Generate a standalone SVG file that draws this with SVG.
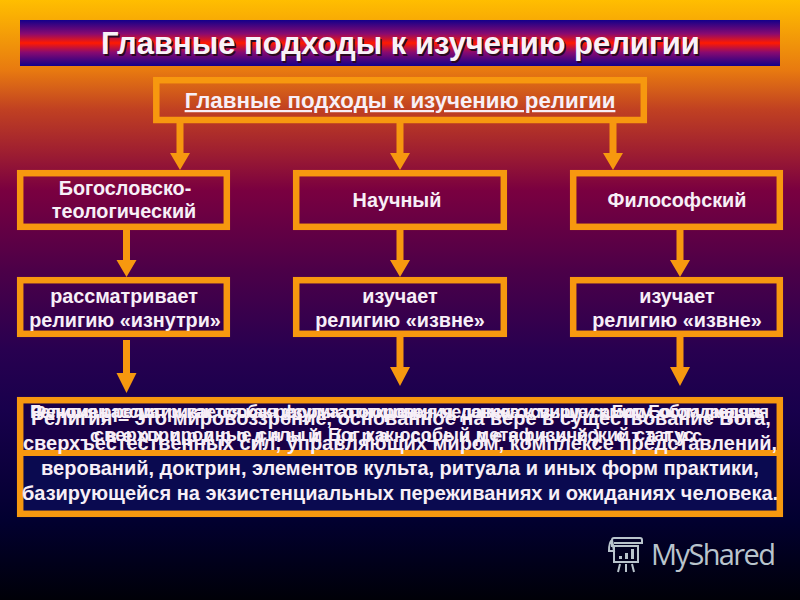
<svg xmlns="http://www.w3.org/2000/svg" width="800" height="600" viewBox="0 0 800 600">
<style>
text{font-family:"Liberation Sans",Arial,sans-serif;font-weight:700;fill:#f7eff7;text-anchor:middle}
.box{fill:none;stroke:#f7980f;stroke-width:6.5}
.arr{fill:#f7980f}
.lb{font-size:19.800px}
.bt{font-size:20px}
.ov{font-size:18px}
.title{font-size:31px;fill:#f8f2f8}
.shadow{font-size:31px;fill:#2a0820}
.logo{font-family:"Open Sans","Noto Sans",sans-serif;font-weight:400;font-size:29px;fill:#b9c4cc;text-anchor:start}
.ico{fill:none;stroke:#b9c4cc;stroke-width:2}
</style>
<defs>
<linearGradient id="bg" x1="0" y1="0" x2="0" y2="1">
<stop offset="0" stop-color="#ffbe00"/>
<stop offset="0.117" stop-color="#e87a10"/>
<stop offset="0.183" stop-color="#c04022"/>
<stop offset="0.25" stop-color="#a02030"/>
<stop offset="0.317" stop-color="#7a0040"/>
<stop offset="0.45" stop-color="#4c0048"/>
<stop offset="0.583" stop-color="#280050"/>
<stop offset="0.683" stop-color="#18004c"/>
<stop offset="0.867" stop-color="#020030"/>
<stop offset="1" stop-color="#000008"/>
</linearGradient>
<linearGradient id="band" x1="0" y1="0" x2="0" y2="1">
<stop offset="0" stop-color="#14008a"/>
<stop offset="0.3" stop-color="#8a0a70"/>
<stop offset="0.5" stop-color="#ff1a00"/>
<stop offset="0.7" stop-color="#8a0a70"/>
<stop offset="1" stop-color="#14008a"/>
</linearGradient>
</defs>
<rect width="800" height="600" fill="url(#bg)"/>
<g id="title-band">
<rect x="20" y="20" width="760" height="46" fill="url(#band)"/>
<text class="shadow" x="402" y="56">Главные подходы к изучению религии</text>
<text class="title" x="400.500" y="54">Главные подходы к изучению религии</text>
</g>
<g id="connectors">
<path class="arr" d="M176.500 123h7v30h6.500l-10 17-10-17h6.500z"/>
<path class="arr" d="M396.500 123h7v30h6.500l-10 17-10-17h6.500z"/>
<path class="arr" d="M609.500 123h7v30h6.500l-10 17-10-17h6.500z"/>
<path class="arr" d="M123 230h7v30h6.500l-10 17-10-17h6.500z"/>
<path class="arr" d="M396.500 230h7v30h6.500l-10 17-10-17h6.500z"/>
<path class="arr" d="M676.500 230h7v30h6.500l-10 17-10-17h6.500z"/>
<path class="arr" d="M123 340h7v33h6.500l-10 20-10-20h6.500z"/>
<path class="arr" d="M396.500 337h7v30h6.500l-10 19-10-19h6.500z"/>
<path class="arr" d="M676.500 337h7v30h6.500l-10 19-10-19h6.500z"/>
</g>
<g id="root">
<rect class="box" x="156.300" y="80.200" width="487.500" height="39.800"/>
<text x="400" y="108" font-size="22.300" text-decoration="underline">Главные подходы к изучению религии</text>
</g>
<g id="theology">
<rect class="box" x="20.200" y="173.200" width="206.600" height="53.600"/>
<text class="lb" x="125" y="195">Богословско-</text>
<text class="lb" x="124" y="218">теологический</text>
</g>
<g id="science">
<rect class="box" x="296.200" y="173.200" width="207.600" height="53.600"/>
<text class="lb" x="397" y="207">Научный</text>
</g>
<g id="philosophy">
<rect class="box" x="573.200" y="173.200" width="206.600" height="53.600"/>
<text class="lb" x="677" y="207">Философский</text>
</g>
<g id="theology-view">
<rect class="box" x="20.200" y="280.200" width="206.600" height="53.600"/>
<text class="lb" x="124" y="303">рассматривает</text>
<text class="lb" x="125" y="327">религию «изнутри»</text>
</g>
<g id="science-view">
<rect class="box" x="296.200" y="280.200" width="207.600" height="53.600"/>
<text class="lb" x="400" y="303">изучает</text>
<text class="lb" x="400" y="327">религию «извне»</text>
</g>
<g id="philosophy-view">
<rect class="box" x="573.200" y="280.200" width="206.600" height="53.600"/>
<text class="lb" x="677" y="303">изучает</text>
<text class="lb" x="677" y="327">религию «извне»</text>
</g>
<g id="definitions">
<rect x="20" y="400" width="760" height="50" fill="#1a0048"/>
<rect x="20" y="456" width="760" height="57" fill="#0a0a50"/>
<rect x="20" y="450" width="760" height="6" fill="#f7980f"/>
<rect class="box" x="20.200" y="400.200" width="759.600" height="113.600"/>
<text class="ov" x="400" y="418" textLength="738" lengthAdjust="spacing">Феномен религии как особая форма отношения человека к миру и к Богу, обладающая</text>
<text class="ov" x="398" y="418" textLength="736" lengthAdjust="spacing">Религия рассматривается как результат откровения, данного свыше самим Богом людям-</text>
<text class="ov" x="396" y="442" textLength="612" lengthAdjust="spacing">сверхприродный (трансцендентный) статус</text>
<text class="ov" x="394" y="441" textLength="600" lengthAdjust="spacing">сверхприродные силы и Бог как особый метафизический статус</text>
<text class="bt" x="401" y="425">Религия – это мировоззрение, основанное на вере в существование Бога,</text>
<text class="bt" x="400" y="450">сверхъестественных сил, управляющих миром, комплексе представлений,</text>
<text class="bt" x="400" y="475">верований, доктрин, элементов культа, ритуала и иных форм практики,</text>
<text class="bt" x="400" y="500">базирующейся на экзистенциальных переживаниях и ожиданиях человека.</text>
</g>
<g id="logo">
<path class="ico" d="M612 547v-7q0-2 2-2h26q2 0 2 2v3h-28M612 540q-3 2-3 11h5q-1-6-2-11"/>
<path class="ico" d="M614 546h24v16h-24z"/>
<path d="M619 556h3v3h-3zM625 553h3v6h-3zM631 549h3v10h-3z" fill="#b9c4cc"/>
<path class="ico" d="M620 564l-2 8M626 564v8M632 564l2 8"/>
<text class="logo" x="651" y="565" textLength="125">MyShared</text>
</g>
</svg>
